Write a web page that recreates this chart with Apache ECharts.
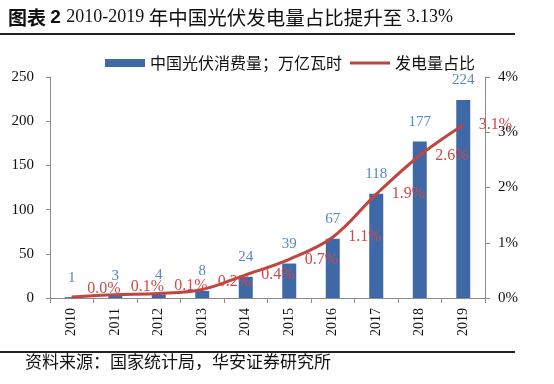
<!DOCTYPE html>
<html>
<head>
<meta charset="utf-8">
<script src="https://cdn.jsdelivr.net/npm/echarts@6/dist/echarts.min.js"></script>
<style>
html,body{margin:0;padding:0;background:#fff;}
#c{width:554px;height:384px;}
</style>
</head>
<body>
<div id="c"></div>
<script>
const years = ['2010','2011','2012','2013','2014','2015','2016','2017','2018','2019'];
const consumption = [1, 3, 4, 8, 24, 39, 67, 118, 177, 224];
const share = [0.02, 0.06, 0.08, 0.153, 0.42, 0.70, 1.10, 1.88, 2.58, 3.13];
const leftTicks = [0, 50, 100, 150, 200, 250];
const rightTicks = [0, 1, 2, 3, 4];
const barName = '中国光伏消费量；万亿瓦时';
const lineName = '发电量占比';
const sourceText = '资料来源：国家统计局，华安证券研究所';

const serif = '"Liberation Serif", "Times New Roman", serif';
const cjk = '"Noto Sans CJK SC", sans-serif';

const chart = echarts.init(document.getElementById('c'), null, {renderer: 'canvas'});
chart.setOption({
  animation: false,
  backgroundColor: '#fff',
  grid: {left: 50, right: 69, top: 77, bottom: 86},
  legend: {
    left: 100, top: 50,
    itemWidth: 40, itemHeight: 8, itemGap: 8,
    textStyle: {fontFamily: cjk, fontSize: 16, color: '#111'},
    data: [
      {name: barName, icon: 'rect'},
      {name: lineName, icon: 'path://M0,0L40,0L40,3L0,3Z', itemStyle: {color: '#C0453F'}}
    ]
  },
  xAxis: {
    type: 'category',
    data: years,
    boundaryGap: true,
    axisLine: {lineStyle: {color: '#8a8a8a', width: 1}},
    axisTick: {show: true, length: 5, lineStyle: {color: '#8a8a8a'}},
    axisLabel: {rotate: 90, margin: 10, fontFamily: serif, fontSize: 14, color: '#111'}
  },
  yAxis: [{
    type: 'value', min: leftTicks[0], max: leftTicks[leftTicks.length-1], interval: 50,
    axisLine: {show: true, lineStyle: {color: '#8a8a8a'}},
    axisTick: {show: true, length: 4, lineStyle: {color: '#8a8a8a'}},
    splitLine: {show: false},
    axisLabel: {margin: 16, fontFamily: serif, fontSize: 15, color: '#111'}
  }, {
    type: 'value', min: rightTicks[0], max: rightTicks[rightTicks.length-1], interval: 1,
    position: 'right',
    axisLine: {show: true, lineStyle: {color: '#8a8a8a'}},
    axisTick: {show: true, length: 5, lineStyle: {color: '#8a8a8a'}},
    splitLine: {show: false},
    axisLabel: {margin: 13, fontFamily: serif, fontSize: 15, color: '#111', formatter: v => v + '%'}
  }],
  series: [{
    name: barName,
    type: 'bar',
    data: consumption,
    barWidth: 14,
    itemStyle: {color: '#3F69A6'},
    label: {show: true, position: 'top', distance: 12, fontFamily: serif, fontSize: 15, color: '#5585CC'}
  }, {
    name: lineName,
    type: 'line',
    yAxisIndex: 1,
    data: share,
    smooth: 0.35,
    symbol: 'circle',
    symbolSize: 1,
    showSymbol: true,
    lineStyle: {color: '#C0453F', width: 3},
    itemStyle: {color: '#C0453F'},
    label: {show: true, position: 'right', distance: 15, fontFamily: serif, fontSize: 16, color: '#D04848',
      formatter: p => p.value.toFixed(1) + '%'},
    labelLayout: p => (p.rect.y + p.rect.height / 2 > 280 ? {dy: -8} : {dy: 0})
  }],
  graphic: [
    {type: 'text', left: 8, top: 8, style: {
      text: '{a|图表 }{b|2 }{c|2010-2019 }{d|年中国光伏发电量占比提升至 }{c|3.13%}',
      rich: {
        a: {fontFamily: cjk, fontWeight: 'bold', fontSize: 19, fill: '#111'},
        b: {fontFamily: '"Liberation Sans", Arial, sans-serif', fontWeight: 'bold', fontSize: 19, fill: '#111'},
        c: {fontFamily: serif, fontSize: 18, fill: '#111'},
        d: {fontFamily: cjk, fontSize: 19.5, fill: '#111'}
      }
    }},
    {type: 'line', shape: {x1: 0, y1: 34, x2: 515, y2: 34}, style: {stroke: '#222', lineWidth: 2}},
    {type: 'line', shape: {x1: 0, y1: 352, x2: 515, y2: 352}, style: {stroke: '#222', lineWidth: 2}},
    {type: 'text', left: 25, top: 353, style: {text: sourceText, fontFamily: cjk, fontSize: 17, fill: '#111'}}
  ]
});
</script>
</body>
</html>
